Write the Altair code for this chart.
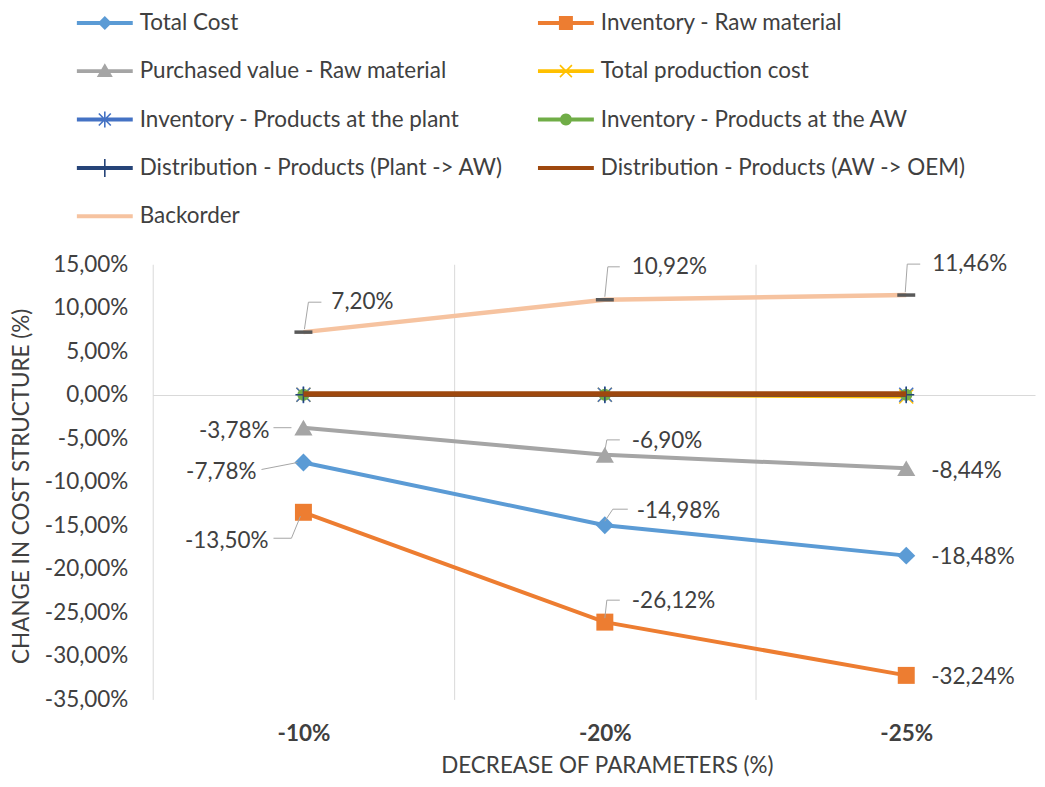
import json
import math
import altair as alt
import pandas as pd

# ---------------- data ----------------
categories = ["-10%", "-20%", "-25%"]
series_names = [
    "Total Cost",
    "Inventory - Raw material",
    "Purchased value - Raw material",
    "Total production cost",
    "Inventory - Products at the plant",
    "Inventory - Products at the AW",
    "Distribution - Products  (Plant  -> AW)",
    "Distribution - Products  (AW  -> OEM)",
    "Backorder",
]
total_cost = [-7.78, -14.98, -18.48]
inventory_raw = [-13.50, -26.12, -32.24]
purchased_raw = [-3.78, -6.90, -8.44]
total_production = [0.0, 0.0, -0.2]
inventory_plant = [0.0, 0.0, 0.0]
inventory_aw = [0.0, 0.0, 0.0]
distribution_plant_aw = [0.0, 0.0, 0.0]
distribution_aw_oem = [0.1, 0.1, 0.1]
backorder = [7.20, 10.92, 11.46]

series_values = [total_cost, inventory_raw, purchased_raw, total_production,
                 inventory_plant, inventory_aw, distribution_plant_aw,
                 distribution_aw_oem, backorder]

rows = []
for s, vals in zip(series_names, series_values):
    for i, (c, v) in enumerate(zip(categories, vals)):
        rows.append({"series": s, "category": c, "idx": i, "value": v})
df = pd.DataFrame(rows)

# ---------------- style ----------------
colors = ["#5B9BD5", "#ED7D31", "#A5A5A5", "#FFC000", "#4472C4",
          "#70AD47", "#264478", "#9E480E", "#F6C3A0"]
line_widths = [4, 4, 4, 4, 4, 4, 4, 5.5, 4.5]
FONT = "Lato"
TXT = "#404040"
GRID = "#d9d9d9"
FS = 22.5
W, H = 884, 436
XMIN = -0.5
XMAX = -0.5 + W / 302.0

U = 14.0  # legend path unit (sqrt(784)/2)


def poly(pts):
    area = sum(x1 * y2 - x2 * y1 for (x1, y1), (x2, y2) in zip(pts, pts[1:] + pts[:1]))
    if area < 0:
        pts = pts[::-1]
    return "M" + "L".join(f"{x / U:.3f},{y / U:.3f}" for x, y in pts) + "Z"


def seg(x1, y1, x2, y2, t=0.8):
    dx, dy = x2 - x1, y2 - y1
    L = math.hypot(dx, dy)
    nx, ny = -dy / L * t, dx / L * t
    return poly([(x1 + nx, y1 + ny), (x2 + nx, y2 + ny), (x2 - nx, y2 - ny), (x1 - nx, y1 - ny)])


bar = poly([(-28, -2), (28, -2), (28, 2), (-28, 2)])
circle = poly([(6 * math.cos(2 * math.pi * k / 24), 6 * math.sin(2 * math.pi * k / 24)) for k in range(24)])
xmark = seg(-6, -6, 6, 6) + seg(-6, 6, 6, -6)
legend_paths = [
    bar + poly([(0, -7), (7, 0), (0, 7), (-7, 0)]),
    bar + poly([(-7, -7), (7, -7), (7, 7), (-7, 7)]),
    bar + poly([(0, -8), (8, 6), (-8, 6)]),
    bar + xmark,
    bar + xmark + seg(0, -8, 0, 8),
    bar + circle,
    bar + seg(0, -9, 0, 9),
    bar,
    bar,
]
# legend fills column by column: order entries so rows read pairwise
legend_order = [0, 2, 4, 6, 8, 1, 3, 5, 7]

# chart markers: (shape, size, filled, strokeWidth, colour override)
X_PATH = "M-1,-1L1,1M-1,1L1,-1"
AST_PATH = "M-1,-1L1,1M-1,1L1,-1M0,-1.2L0,1.2"
PLUS_PATH = "M0,-1L0,1M-1,0L1,0"
DASH_PATH = "M-1,0L1,0"
markers = [
    ("diamond", 324, True, 0, None),
    ("square", 289, True, 0, None),
    ("triangle-up", 330, True, 0, None),
    (X_PATH, 196, False, 1.5, None),
    (AST_PATH, 196, False, 1.5, None),
    ("circle", 150, True, 0, None),
    (PLUS_PATH, 256, False, 1.5, None),
    None,
    (DASH_PATH, 324, False, 3.5, "#595959"),
]

label_expr = "(datum.value < 0 ? '-' : '') + replace(format(abs(datum.value), '.2f'), '.', ',') + '%'"

xvals = [i / 2 for i in range(2 * len(categories) - 1)]
x_enc = alt.X(
    "idx:Q",
    scale=alt.Scale(domain=[XMIN, XMAX], nice=False, zero=False),
    axis=alt.Axis(
        values=xvals,
        labelExpr=f"datum.value % 1 === 0 ? {json.dumps(categories)}[datum.value] : ''",
        grid=True, gridColor=GRID, gridWidth=1,
        gridOpacity={"condition": {"test": "datum.value % 1 !== 0", "value": 1}, "value": 0},
        domain=False, ticks=False, tickSize=0,
        labelFont=FONT, labelFontSize=FS, labelFontWeight="bold", labelColor=TXT,
        labelPadding=23, labelBound=False, labelOverlap=False,
        title="DECREASE OF PARAMETERS (%)", titleFont=FONT, titleFontSize=FS,
        titleFontWeight="normal", titleColor=TXT, titleX=455, titleY=66,
        titleBaseline="middle", titleAlign="center",
    ),
)
y_enc = alt.Y(
    "value:Q",
    scale=alt.Scale(domain=[-35, 15], nice=False, zero=False),
    axis=alt.Axis(
        values=list(range(-35, 16, 5)),
        labelExpr=label_expr,
        grid=True, gridColor=GRID, gridWidth=1,
        gridOpacity={"condition": {"test": "datum.value === 0", "value": 1}, "value": 0},
        domain=True, domainColor=GRID, domainWidth=1,
        ticks=False, tickSize=0,
        labelFont=FONT, labelFontSize=FS, labelColor=TXT, labelPadding=25,
        title="CHANGE IN COST STRUCTURE (%)", titleFont=FONT, titleFontSize=FS,
        titleFontWeight="normal", titleColor=TXT, titleX=-131, titleY=H / 2 + 4,
        titleAngle=-90, titleBaseline="middle", titleAlign="center",
    ),
)

base = alt.Chart(df)
layers = []

legend = alt.Legend(
    title=None, orient="none", legendX=-62, legendY=-256, columns=2,
    columnPadding=23, rowPadding=22.5, symbolSize=784, symbolOpacity=1,
    symbolStrokeWidth=0, labelFont=FONT, labelFontSize=FS, labelColor=TXT,
    labelOffset=21, labelLimit=600, padding=0,
)
layers.append(
    base.mark_point(filled=True, opacity=0, size=784).encode(
        x=x_enc, y=y_enc,
        color=alt.Color("series:N", scale=alt.Scale(
            domain=[series_names[i] for i in legend_order],
            range=[colors[i] for i in legend_order]), legend=legend),
        shape=alt.Shape("series:N", scale=alt.Scale(
            domain=[series_names[i] for i in legend_order],
            range=[legend_paths[i] for i in legend_order]), legend=legend),
    )
)

for k, s in enumerate(series_names):
    sub = base.transform_filter(alt.datum.series == s)
    layers.append(sub.mark_line(color=colors[k], strokeWidth=line_widths[k]).encode(x=x_enc, y=y_enc))
    m = markers[k]
    if m is not None:
        shape, size, filled, sw, col = m
        c = col or colors[k]
        if filled:
            mk = sub.mark_point(shape=shape, size=size, filled=True, color=c, opacity=1)
        else:
            mk = sub.mark_point(shape=shape, size=size, filled=False, color=c, opacity=1, strokeWidth=sw)
        layers.append(mk.encode(x=x_enc, y=y_enc))

# data-label callouts: (series index, category index, align, dx, dy, leader polyline)
callouts = [
    (8, 0, "left", 28, -30, [(1, -3), (5, -30), (18, -30)]),
    (8, 1, "left", 27, -33, [(0, -3), (3, -33), (15, -33)]),
    (8, 2, "left", 26, -31, [(-1, -3), (1, -31), (14, -31)]),
    (2, 0, "right", -34, 3, [(-30, 0), (-12, 0)]),
    (2, 1, "left", 27, -14, [(0, -4), (2, -15), (15, -15)]),
    (2, 2, "left", 25, 3, []),
    (0, 0, "right", -47, 10, [(-42, 7), (-6, 0)]),
    (0, 1, "left", 32, -14, [(0, -4), (8, -16), (23, -16)]),
    (0, 2, "left", 25, 1, []),
    (1, 0, "right", -35, 29, [(-30, 26), (-12, 26), (-3, 4)]),
    (1, 1, "left", 27, -21, [(0, -4), (2, -22), (15, -22)]),
    (1, 2, "left", 25, 2, []),
]
for si, ci, align, dx, dy, leader in callouts:
    sub = base.transform_filter((alt.datum.series == series_names[si]) & (alt.datum.idx == ci))
    for (x1, y1), (x2, y2) in zip(leader, leader[1:]):
        layers.append(
            sub.mark_rule(color="#a6a6a6", strokeWidth=1, xOffset=x1, yOffset=y1,
                          x2Offset=x2, y2Offset=y2).encode(
                x=x_enc, y=y_enc, x2=alt.X2("idx"), y2=alt.Y2("value"))
        )
    layers.append(
        sub.transform_calculate(label=label_expr.replace("datum.value", "datum['value']"))
        .mark_text(align=align, baseline="middle", dx=dx, dy=dy, font=FONT, fontSize=FS, color=TXT)
        .encode(x=x_enc, y=y_enc, text="label:N")
    )

chart = alt.layer(*layers).properties(
    width=W, height=H,
    autosize=alt.AutoSizeParams(type="none"),
    padding={"left": 145, "top": 256, "right": 2, "bottom": 79},
    background="white",
).configure_view(stroke=None)

chart.save("out.html", embed_options={"renderer": "svg", "actions": False})
